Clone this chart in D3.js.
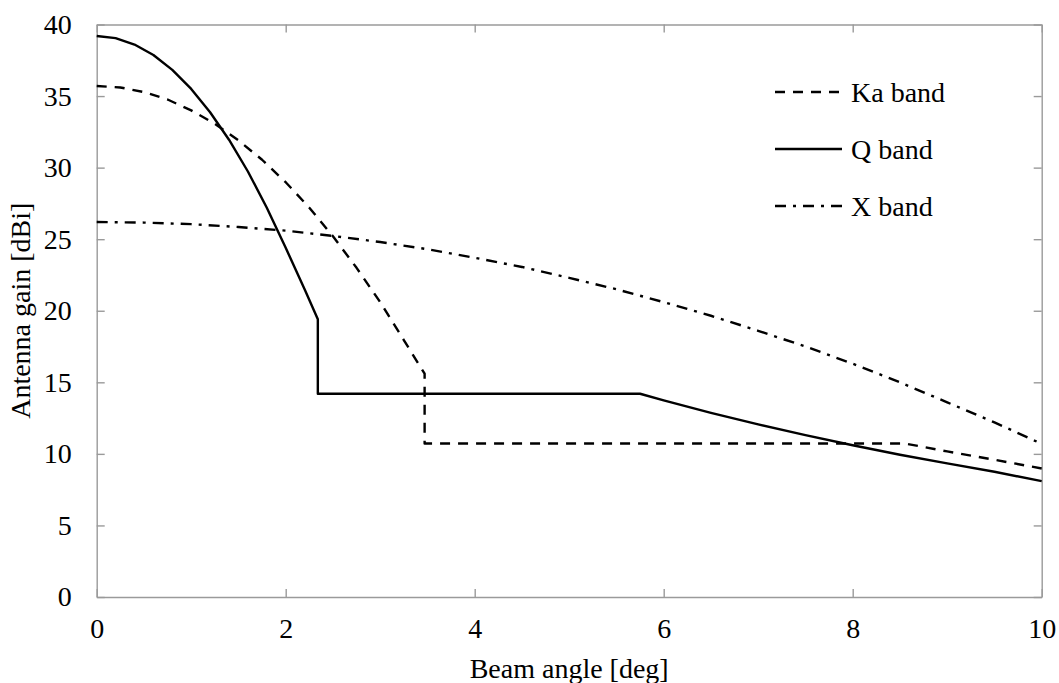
<!DOCTYPE html>
<html>
<head>
<meta charset="utf-8">
<script src="https://cdn.jsdelivr.net/npm/d3@7"></script>
<style>
  html, body { margin: 0; padding: 0; background: #fff; }
  svg { display: block; }
  text { font-family: "Liberation Serif", "Times New Roman", serif; fill: #000; }
</style>
</head>
<body>
<svg id="chart" width="1059" height="683"></svg>
<script>
// ---- data ----
const xTicks = [0, 2, 4, 6, 8, 10];
const yTicks = [0, 5, 10, 15, 20, 25, 30, 35, 40];

const kaAngle = [0, 0.25, 0.5, 0.75, 1, 1.25, 1.5, 1.75, 2, 2.25, 2.5, 2.75, 3, 3.25, 3.47, 3.47, 8.55, 9, 9.5, 10];
const kaGain  = [35.7, 35.6, 35.28, 34.76, 34.0, 33.07, 31.9, 30.55, 28.98, 27.2, 25.2, 23.0, 20.6, 17.95, 15.6, 10.73, 10.73, 10.17, 9.59, 8.98];

const qAngle = [0, 0.2, 0.4, 0.6, 0.8, 1.0, 1.2, 1.4, 1.6, 1.8, 2.0, 2.2, 2.34, 2.34, 5.75, 6, 6.5, 7, 7.5, 8, 8.5, 9, 9.5, 10];
const qGain  = [39.2, 39.05, 38.6, 37.87, 36.83, 35.5, 33.87, 31.95, 29.73, 27.2, 24.4, 21.5, 19.4, 14.2, 14.2, 13.74, 12.87, 12.06, 11.31, 10.6, 9.94, 9.34, 8.75, 8.1];

const xAngle = [0, 0.5, 1, 1.5, 2, 2.5, 3, 3.5, 4, 4.5, 5, 5.5, 6, 6.5, 7, 7.5, 8, 8.5, 9, 9.5, 10];
const xGain  = [26.2, 26.16, 26.05, 25.85, 25.6, 25.23, 24.8, 24.3, 23.7, 23.06, 22.3, 21.5, 20.6, 19.65, 18.6, 17.5, 16.3, 15.0, 13.6, 12.2, 10.7];

const seriesNames = ["Ka band", "Q band", "X band"];

// ---- layout ----
const svg = d3.select("#chart");
const L = 96.7, R = 1041.7, T = 24.5, B = 597;
const fs = 28;

const x = d3.scaleLinear().domain([0, 10]).range([L, R]);
const y = d3.scaleLinear().domain([0, 40]).range([B, T]);

const frameColor = "#9a9a9a";

function styleAxis(g) {
  g.selectAll("path.domain").attr("stroke", frameColor).attr("stroke-width", 1.4);
  g.selectAll(".tick line").attr("stroke", frameColor).attr("stroke-width", 1.4);
  g.selectAll(".tick text")
    .attr("font-family", "Liberation Serif, Times New Roman, serif")
    .attr("font-size", fs).attr("fill", "#000");
}

svg.append("g").attr("transform", `translate(0,${B})`)
  .call(d3.axisBottom(x).tickValues(xTicks).tickSize(-8).tickSizeOuter(0).tickPadding(21).tickFormat(d3.format("d")))
  .call(styleAxis);
svg.append("g").attr("transform", `translate(0,${T})`)
  .call(d3.axisTop(x).tickValues(xTicks).tickSize(-8).tickSizeOuter(0).tickFormat(""))
  .call(styleAxis);
svg.append("g").attr("transform", `translate(${L},0)`)
  .call(d3.axisLeft(y).tickValues(yTicks).tickSize(-8).tickSizeOuter(0).tickPadding(25).tickFormat(d3.format("d")))
  .call(styleAxis);
svg.append("g").attr("transform", `translate(${R},0)`)
  .call(d3.axisRight(y).tickValues(yTicks).tickSize(-8).tickSizeOuter(0).tickFormat(""))
  .call(styleAxis);

// axis titles
svg.append("text")
  .attr("x", (L + R) / 2).attr("y", 678)
  .attr("text-anchor", "middle").attr("font-size", fs)
  .text("Beam angle [deg]");
svg.append("text")
  .attr("transform", `translate(30,${(T + B) / 2}) rotate(-90)`)
  .attr("text-anchor", "middle").attr("font-size", fs)
  .text("Antenna gain [dBi]");

// ---- lines ----
const line = d3.line().x(d => x(d[0])).y(d => y(d[1]));
const dashes = ["10,8", null, "11,7,3,7"];
const data = [
  d3.zip(kaAngle, kaGain),
  d3.zip(qAngle, qGain),
  d3.zip(xAngle, xGain)
];

const plot = svg.append("g");
data.forEach((d, i) => {
  plot.append("path")
    .datum(d)
    .attr("d", line)
    .attr("fill", "none")
    .attr("stroke", "#000")
    .attr("stroke-width", 2.4)
    .attr("stroke-linejoin", "round")
    .attr("stroke-dasharray", dashes[i]);
});

// ---- legend ----
const legY = [92, 149, 206];
const leg = svg.append("g");
seriesNames.forEach((name, i) => {
  leg.append("line")
    .attr("x1", 775).attr("x2", 842)
    .attr("y1", legY[i]).attr("y2", legY[i])
    .attr("stroke", "#000").attr("stroke-width", 2.4)
    .attr("stroke-dasharray", dashes[i]);
  leg.append("text")
    .attr("x", 851).attr("y", legY[i]).attr("dy", "0.35em")
    .attr("font-size", fs)
    .text(name);
});
</script>
</body>
</html>
